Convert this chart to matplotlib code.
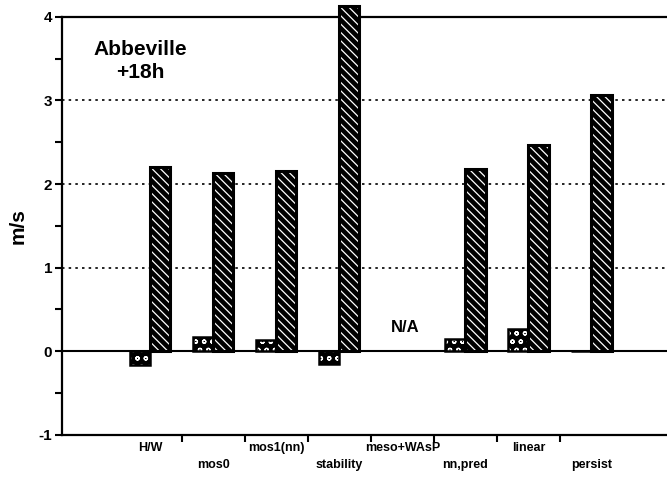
import matplotlib
matplotlib.use("Agg")
import matplotlib.pyplot as plt
import numpy as np

plt.rcParams['font.family'] = ['Liberation Sans', 'DejaVu Sans']
plt.rcParams['hatch.linewidth'] = 0.9

categories = ["H/W", "mos0", "mos1(nn)", "stability", "meso+WAsP", "nn,pred", "linear", "persist"]
bias = [-0.17, 0.17, 0.13, -0.15, np.nan, 0.15, 0.27, 0.0]
rmse = [2.20, 2.13, 2.15, 4.13, np.nan, 2.18, 2.47, 3.07]
yticks = [-1, 0, 1, 2, 3, 4]

fig = plt.figure(figsize=(6.67, 4.8), dpi=100)
ax = fig.add_axes([0.093, 0.094, 0.907, 0.871])

x = np.arange(len(categories))
w = 0.32
xb = x - w / 2
xr = x + w / 2

# bias bars: black with white dots
ax.bar(xb, bias, w, color='black', edgecolor='white', hatch='oo', linewidth=0, zorder=3)
ax.bar(xb, bias, w, color='none', edgecolor='black', linewidth=1.8, zorder=4)
# rmse bars: black with white diagonal hatching
b = ax.bar(xr, rmse, w, color='black', edgecolor='white', hatch='\\\\\\\\', linewidth=0, zorder=3)
for r in b:
    r.set_clip_on(False)
b2 = ax.bar(xr, rmse, w, color='none', edgecolor='black', linewidth=2.2, zorder=4)
for r in b2:
    r.set_clip_on(False)

ax.set_xlim(-1.4, 8.2)
ax.set_ylim(-1, 4)
ax.axhline(0, color='black', lw=1.5, zorder=2)
for g in [1, 2, 3]:
    ax.axhline(g, color='black', lw=1.2, ls=(0, (1.5, 2.5)), zorder=1)

ax.spines['right'].set_visible(False)
for s in ['left', 'bottom', 'top']:
    ax.spines[s].set_linewidth(1.6)

ax.set_yticks(yticks)
ax.set_yticklabels([str(t) for t in yticks], fontweight='bold', fontsize=11)
ax.set_yticks(np.arange(-0.5, 4, 1.0), minor=True)
ax.tick_params(axis='y', which='both', direction='out', length=5, width=1.5, pad=2)

ax.set_xticks(x[:-1] + 0.5)
ax.set_xticklabels([])
ax.tick_params(axis='x', direction='out', length=5, width=1.5)
for i, c in enumerate(categories):
    off = -0.018 if i % 2 == 0 else -0.058
    ax.text(i, off, c, transform=ax.get_xaxis_transform(), ha='center', va='top',
            fontsize=9, fontweight='bold')

ax.set_ylabel('m/s', fontsize=15, fontweight='bold', labelpad=8)

ax.text(-0.16, 3.47, 'Abbeville\n+18h', ha='center', va='center', fontsize=15,
        fontweight='bold', linespacing=1.3)
ax.text(4.05, 0.28, 'N/A', ha='center', va='center', fontsize=12, fontweight='bold')

fig.savefig('out.png', dpi=100)
